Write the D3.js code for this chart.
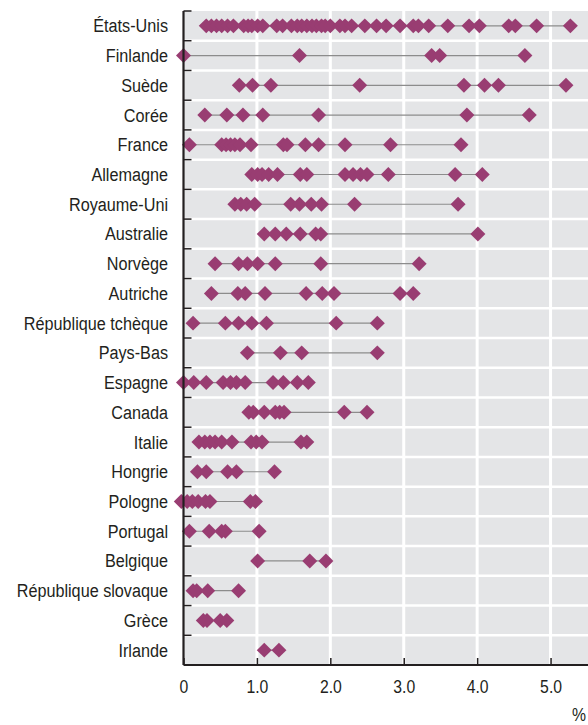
<!DOCTYPE html>
<html>
<head>
<meta charset="utf-8">
<script src="https://cdn.jsdelivr.net/npm/d3@7"></script>
<style>
  html, body { margin: 0; padding: 0; background: #ffffff; }
  svg { display: block; }
  .lbl { font-family: "Liberation Sans", Arial, sans-serif; font-size: 18px; fill: #231f20; }
</style>
</head>
<body>
<svg id="chart" width="588" height="725"></svg>
<script>
// Countries, top to bottom
const countries = [
  "États-Unis", "Finlande", "Suède", "Corée", "France", "Allemagne",
  "Royaume-Uni", "Australie", "Norvège", "Autriche", "République tchèque",
  "Pays-Bas", "Espagne", "Canada", "Italie", "Hongrie", "Pologne",
  "Portugal", "Belgique", "République slovaque", "Grèce", "Irlande"
];

// Observed values (%) for each country, in the same order
const etatsUnis = [0.31, 0.38, 0.45, 0.52, 0.60, 0.68, 0.82, 0.88, 0.93, 1.01, 1.08, 1.27, 1.35, 1.47, 1.55, 1.61, 1.68, 1.75, 1.81, 1.88, 1.93, 2.00, 2.13, 2.20, 2.29, 2.47, 2.63, 2.76, 2.95, 3.13, 3.20, 3.34, 3.60, 3.89, 4.03, 4.43, 4.52, 4.81, 5.27];
const finlande = [0.00, 1.58, 3.38, 3.49, 4.65];
const suede = [0.76, 0.94, 1.19, 2.40, 3.82, 4.10, 4.29, 5.21];
const coree = [0.29, 0.59, 0.81, 1.08, 1.84, 3.86, 4.71];
const france = [0.08, 0.52, 0.58, 0.64, 0.70, 0.77, 0.92, 1.36, 1.41, 1.66, 1.84, 2.20, 2.82, 3.78];
const allemagne = [0.93, 1.01, 1.07, 1.16, 1.28, 1.59, 1.68, 2.20, 2.31, 2.41, 2.50, 2.79, 3.70, 4.07];
const royaumeUni = [0.70, 0.78, 0.86, 0.97, 1.46, 1.58, 1.74, 1.88, 2.33, 3.74];
const australie = [1.10, 1.25, 1.40, 1.59, 1.80, 1.87, 4.01];
const norvege = [0.43, 0.75, 0.87, 1.01, 1.25, 1.87, 3.21];
const autriche = [0.38, 0.74, 0.84, 1.11, 1.67, 1.89, 2.05, 2.95, 3.13];
const tcheque = [0.13, 0.57, 0.75, 0.93, 1.13, 2.08, 2.64];
const paysBas = [0.87, 1.32, 1.61, 2.64];
const espagne = [0.00, 0.14, 0.31, 0.54, 0.64, 0.72, 0.84, 1.22, 1.36, 1.55, 1.70];
const canada = [0.89, 0.95, 1.10, 1.25, 1.31, 1.37, 2.19, 2.50];
const italie = [0.21, 0.29, 0.36, 0.43, 0.52, 0.66, 0.92, 0.99, 1.07, 1.60, 1.68];
const hongrie = [0.19, 0.31, 0.60, 0.72, 1.24];
const pologne = [-0.03, 0.05, 0.12, 0.20, 0.30, 0.36, 0.91, 0.98];
const portugal = [0.08, 0.35, 0.52, 0.57, 1.03];
const belgique = [1.01, 1.72, 1.94];
const slovaque = [0.13, 0.18, 0.33, 0.75];
const grece = [0.27, 0.32, 0.50, 0.59];
const irlande = [1.10, 1.30];

const seriesValues = [
  etatsUnis, finlande, suede, coree, france, allemagne, royaumeUni, australie,
  norvege, autriche, tcheque, paysBas, espagne, canada, italie, hongrie,
  pologne, portugal, belgique, slovaque, grece, irlande
];

const xTickValues = [0, 1, 2, 3, 4, 5];
const xTickLabels = ["0", "1.0", "2.0", "3.0", "4.0", "5.0"];
const unitLabel = "%";

const rows = countries.map((c, i) => ({ country: c, values: seriesValues[i] }));

const svg = d3.select("#chart");
const plot = { left: 183.5, right: 588, top: 11, bottom: 665 };

const x = d3.scaleLinear().domain([0, 5.51]).range([plot.left, plot.right]);
const y = d3.scaleBand().domain(countries).range([plot.top, plot.bottom]).padding(0);

// Squeeze a text horizontally to get a condensed face
function condense(sel, k) {
  sel.each(function () {
    const w = this.getComputedTextLength();
    d3.select(this).attr("textLength", w * k).attr("lengthAdjust", "spacingAndGlyphs");
  });
}

// Plot background
svg.append("rect")
  .attr("x", plot.left).attr("y", plot.top)
  .attr("width", plot.right - plot.left).attr("height", plot.bottom - plot.top)
  .attr("fill", "#e4e5e7");

// Vertical white gridlines
svg.append("g").selectAll("line")
  .data(xTickValues.filter(v => v > 0))
  .join("line")
  .attr("x1", d => x(d)).attr("x2", d => x(d))
  .attr("y1", plot.top).attr("y2", plot.bottom)
  .attr("stroke", "#ffffff").attr("stroke-width", 3);

// Horizontal white separators between rows
const boundaries = countries.slice(1).map(c => y(c));
svg.append("g").selectAll("line")
  .data(boundaries)
  .join("line")
  .attr("x1", plot.left).attr("x2", plot.right)
  .attr("y1", d => d).attr("y2", d => d)
  .attr("stroke", "#ffffff").attr("stroke-width", 2.5);

// Range line from min to max in each row
const rowG = svg.append("g").selectAll("g")
  .data(rows)
  .join("g")
  .attr("transform", d => `translate(0,${y(d.country) + y.bandwidth() / 2})`);

rowG.append("line")
  .attr("x1", d => x(d3.min(d.values)))
  .attr("x2", d => x(d3.max(d.values)))
  .attr("stroke", "#8c8c8c").attr("stroke-width", 1.2);

// Diamonds
const diamond = d3.symbol().type(d3.symbolSquare).size(112);
rowG.selectAll("path")
  .data(d => d.values)
  .join("path")
  .attr("d", diamond)
  .attr("transform", v => `translate(${x(v)},0) rotate(45)`)
  .attr("fill", "#993d72");

// Left axis line and row boundary ticks
svg.append("line")
  .attr("x1", plot.left).attr("x2", plot.left)
  .attr("y1", plot.top).attr("y2", plot.bottom)
  .attr("stroke", "#231f20").attr("stroke-width", 2.2);
svg.append("g").selectAll("line")
  .data([plot.top].concat(boundaries))
  .join("line")
  .attr("x1", plot.left).attr("x2", plot.left + 8)
  .attr("y1", d => d).attr("y2", d => d)
  .attr("stroke", "#231f20").attr("stroke-width", 1.5);

// Country labels
const yAxis = svg.append("g")
  .attr("transform", `translate(${plot.left - 15.5},0)`)
  .call(d3.axisLeft(y).tickSize(0).tickPadding(0));
yAxis.select(".domain").remove();
yAxis.selectAll("text").attr("class", "lbl").attr("font-family", null).attr("font-size", null)
  .attr("dy", "0.36em").call(condense, 0.9);

// Bottom axis
const xAxis = svg.append("g")
  .attr("transform", `translate(0,${plot.bottom})`)
  .call(d3.axisBottom(x).tickValues(xTickValues)
    .tickFormat((d, i) => xTickLabels[i])
    .tickSizeInner(-7).tickSizeOuter(0).tickPadding(15));
xAxis.select(".domain").attr("d", `M${plot.left},0H${plot.right}`)
  .attr("stroke", "#231f20").attr("stroke-width", 2.2);
xAxis.selectAll(".tick line").attr("stroke", "#231f20").attr("stroke-width", 1.5);
xAxis.selectAll("text").attr("class", "lbl").attr("font-family", null).attr("font-size", null)
  .call(condense, 0.875);

// Unit label
svg.append("text")
  .attr("class", "lbl")
  .attr("x", 579).attr("y", 721)
  .attr("text-anchor", "middle")
  .text(unitLabel)
  .call(condense, 0.875);
</script>
</body>
</html>
